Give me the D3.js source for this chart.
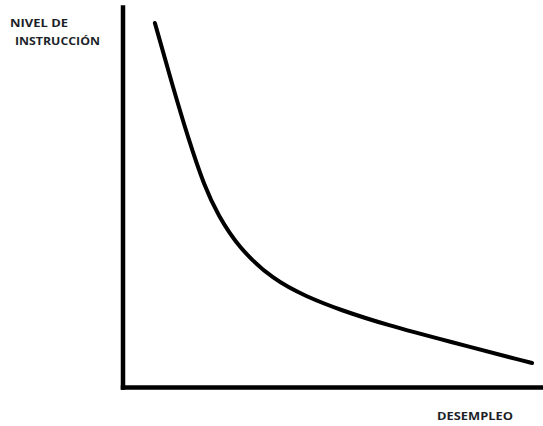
<!DOCTYPE html>
<html>
<head>
<meta charset="utf-8">
<script src="https://cdn.jsdelivr.net/npm/d3@7"></script>
<style>
  html, body { margin: 0; padding: 0; background: #fff; }
  svg { display: block; }
  text { font-family: "Open Sans", "DejaVu Sans", sans-serif; font-weight: 700; fill: #1c1f2a; }
</style>
</head>
<body>
<svg id="chart" width="543" height="426"></svg>
<script>
// Data (relative units 0-100)
const desempleo = [7.7, 11.8, 15.6, 19.6, 22.7, 27.5, 35.8, 43.9, 51.7, 62.9, 77.2, 97.4];
const nivelInstruccion = [95.8, 79.7, 65.5, 52.4, 45.3, 36.8, 28.2, 23.7, 20.3, 16.3, 12.1, 6.3];
const yLabelLines = ["NIVEL DE", "INSTRUCCIÓN"];
const xLabel = "DESEMPLEO";

const svg = d3.select("#chart");
const x = d3.scaleLinear().domain([0, 100]).range([122.5, 543]);
const y = d3.scaleLinear().domain([0, 100]).range([387, 7]);

const points = desempleo.map((d, i) => [d, nivelInstruccion[i]]);

// Axes (no ticks)
svg.append("g")
  .attr("transform", `translate(0,${y(0)})`)
  .call(d3.axisBottom(x).tickValues([]).tickSizeOuter(0));
svg.append("g")
  .attr("transform", `translate(${x(0)},0)`)
  .call(d3.axisLeft(y).tickValues([]).tickSizeOuter(0));
svg.selectAll(".domain")
  .attr("stroke", "#000")
  .attr("stroke-width", 4.5)
  .attr("stroke-linecap", "square");

// Curve
const line = d3.line()
  .x(d => x(d[0]))
  .y(d => y(d[1]))
  .curve(d3.curveBasis);
svg.append("path")
  .datum(points)
  .attr("d", line)
  .attr("fill", "none")
  .attr("stroke", "#000")
  .attr("stroke-width", 4)
  .attr("stroke-linecap", "round");

// Labels
svg.append("text")
  .attr("x", 10).attr("y", 27)
  .attr("font-size", 11)
  .attr("textLength", 58).attr("lengthAdjust", "spacingAndGlyphs")
  .text(yLabelLines[0]);
svg.append("text")
  .attr("x", 15).attr("y", 45)
  .attr("font-size", 11)
  .attr("textLength", 85).attr("lengthAdjust", "spacingAndGlyphs")
  .text(yLabelLines[1]);
svg.append("text")
  .attr("x", 437).attr("y", 420)
  .attr("font-size", 11)
  .attr("textLength", 76).attr("lengthAdjust", "spacingAndGlyphs")
  .text(xLabel);
</script>
</body>
</html>
